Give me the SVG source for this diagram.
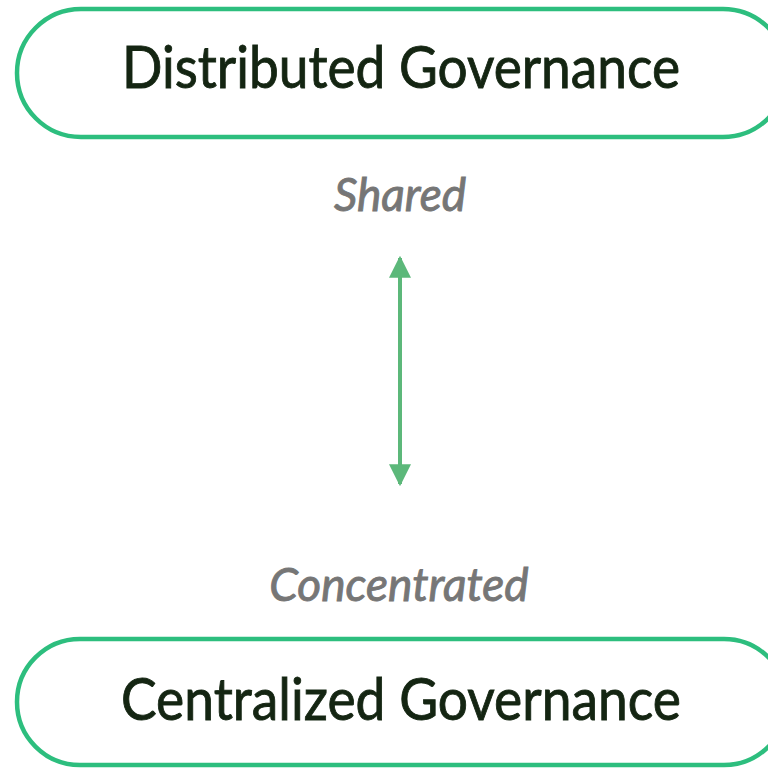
<svg xmlns="http://www.w3.org/2000/svg" width="768" height="769" viewBox="0 0 768 769">
<style>
.box{fill:#ffffff;stroke:#2dbe7e;stroke-width:4.5}
.title{font-family:Lato,"Noto Sans",sans-serif;font-size:59px;fill:#142512;stroke:#142512;stroke-width:0.9;text-anchor:middle}
.lbl{font-family:Lato,"Noto Sans",sans-serif;font-style:italic;font-size:46px;fill:#767676;stroke:#767676;stroke-width:0.9;text-anchor:middle}
.conn{stroke:#5cb87a;stroke-width:4;fill:none}
</style>
<defs>
<marker id="ah" viewBox="0 0 10 10" refX="9" refY="5" markerWidth="5.5" markerHeight="5.5" orient="auto-start-reverse" markerUnits="strokeWidth">
<path d="M0,0 L10,5 L0,10 z" fill="#5cb87a"/>
</marker>
</defs>
<rect width="768" height="769" fill="#ffffff"/>
<g id="distributed">
<rect class="box" x="17" y="9" width="770" height="128" rx="64"/>
<text class="title" x="401" y="88" textLength="558" lengthAdjust="spacingAndGlyphs">Distributed Governance</text>
</g>
<g id="centralized">
<rect class="box" x="17" y="639" width="770" height="126" rx="63"/>
<text class="title" x="401" y="720" textLength="560" lengthAdjust="spacingAndGlyphs">Centralized Governance</text>
</g>
<g id="labels">
<text class="lbl" x="400" y="211">Shared</text>
<text class="lbl" x="399" y="601">Concentrated</text>
</g>
<g id="connectors">
<line class="conn" x1="400" y1="258" x2="400" y2="484" marker-start="url(#ah)" marker-end="url(#ah)"/>
</g>
</svg>
